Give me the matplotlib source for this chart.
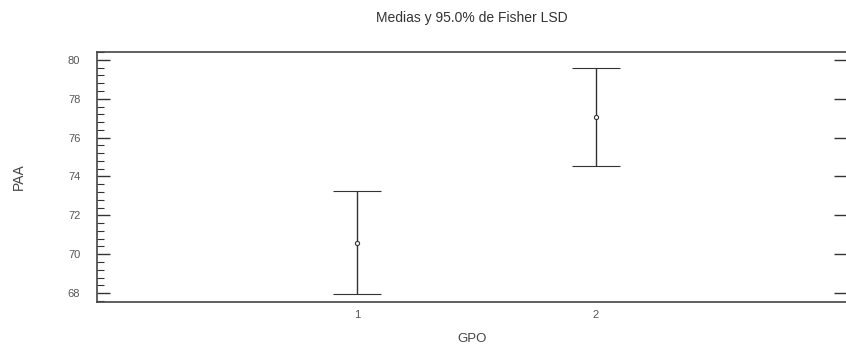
import matplotlib
matplotlib.use("Agg")
import matplotlib.pyplot as plt
import numpy as np
from matplotlib.ticker import MultipleLocator

groups = [1, 2]
group_labels = ["1", "2"]
means = [70.6, 77.07]
lower = [67.95, 74.55]
upper = [73.27, 79.6]

plt.rcParams["font.family"] = ["Liberation Sans", "DejaVu Sans"]

fig = plt.figure(figsize=(8.46, 3.45), dpi=100)
ax = fig.add_axes([0.1147, 0.125, 0.8855, 0.724])

means_a = np.array(means)
err = [means_a - np.array(lower), np.array(upper) - means_a]
ax.errorbar(groups, means, yerr=err, fmt="o", ms=3, mfc="white", mec="#333333",
            mew=0.8, color="#333333", elinewidth=1.0, capsize=17.5, capthick=1.0)

ax.set_xlim(-0.09, 3.05)
ax.set_ylim(67.55, 80.4)
ax.set_xticks(groups)
ax.set_xticklabels(group_labels)
ax.yaxis.set_major_locator(MultipleLocator(2))
ax.yaxis.set_minor_locator(MultipleLocator(0.4))

ax.tick_params(axis="y", which="major", direction="in", length=9, width=1.0,
               labelsize=8, labelcolor="#555555", color="#333333", right=True,
               pad=12)
ax.tick_params(axis="y", which="minor", direction="in", length=5, width=0.8,
               color="#333333")
ax.tick_params(axis="x", which="major", direction="in", length=0,
               labelsize=8, labelcolor="#555555", pad=6)

for side in ax.spines.values():
    side.set_color("#444444")
    side.set_linewidth(1.2)
ax.spines["right"].set_visible(False)

ax.set_title("Medias y 95.0% de Fisher LSD", fontsize=10, color="#333333", pad=22)
ax.set_ylabel("PAA", fontsize=10, color="#444444", va="center")
ax.yaxis.set_label_coords(-0.104, 0.5)
ax.set_xlabel("GPO", fontsize=9.5, color="#444444", va="top")
ax.xaxis.set_label_coords(0.5, -0.125)

fig.savefig("out.png", dpi=100)
